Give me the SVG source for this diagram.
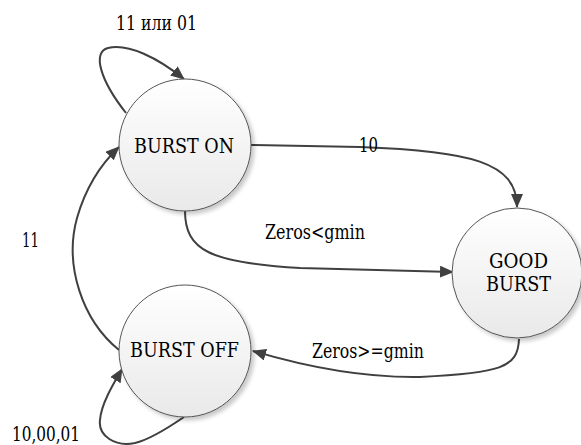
<svg xmlns="http://www.w3.org/2000/svg" width="581" height="445" viewBox="0 0 581 445">
  <defs>
    <linearGradient id="nodeFill" x1="0" y1="0" x2="0" y2="1">
      <stop offset="0" stop-color="#ffffff"/>
      <stop offset="1" stop-color="#e9e9e9"/>
    </linearGradient>
    <filter id="shadow" x="-20%" y="-20%" width="150%" height="150%">
      <feGaussianBlur in="SourceAlpha" stdDeviation="2"/>
      <feOffset dx="3" dy="3" result="b"/>
      <feComponentTransfer><feFuncA type="linear" slope="0.22"/></feComponentTransfer>
      <feMerge><feMergeNode/><feMergeNode in="SourceGraphic"/></feMerge>
    </filter>
    <marker id="arrow" markerWidth="14" markerHeight="12" refX="13" refY="6" orient="auto" markerUnits="userSpaceOnUse">
      <path d="M0,0 L14,6 L0,12 Z" fill="#404040"/>
    </marker>
  </defs>
  <style>
    .node circle { fill: url(#nodeFill); stroke: #555555; stroke-width: 1; filter: url(#shadow); }
    text { font-family: 'DejaVu Serif', serif; font-size: 20px; fill: #000000; text-anchor: middle; }
    .edge { fill: none; stroke: #404040; stroke-width: 2; marker-end: url(#arrow); }
  </style>

  <g id="connectors">
    <!-- BURST ON self loop -->
    <path class="edge" d="M126,113 C100,80 92,52 108,48 C128,43 158,58 184,79"/>
    <!-- BURST ON to GOOD BURST (10) -->
    <path class="edge" d="M251,145 L360,147 C470,151 517,162 517,207"/>
    <!-- BURST ON to GOOD BURST (Zeros<gmin) -->
    <path class="edge" d="M185,211 C185,250 210,263 300,268 L453,272"/>
    <!-- GOOD BURST to BURST OFF -->
    <path class="edge" d="M519,339 C518,368 500,373 420,377 C360,378 300,365 253,351"/>
    <!-- BURST OFF to BURST ON -->
    <path class="edge" d="M119,350 C82,320 64,265 77,218 C85,190 100,165 119,147"/>
    <!-- BURST OFF self loop -->
    <path class="edge" d="M184,417 C165,430 148,440 135,443 C115,447 98,436 100,420 C101,405 112,386 122,369"/>
  </g>

  <g id="edge-labels">
    <text x="156.5" y="30" textLength="81" lengthAdjust="spacingAndGlyphs">11 или 01</text>
    <text x="368.5" y="152" textLength="19" lengthAdjust="spacingAndGlyphs">10</text>
    <text x="315" y="239" textLength="100" lengthAdjust="spacingAndGlyphs">Zeros&lt;gmin</text>
    <text x="368" y="358" textLength="112" lengthAdjust="spacingAndGlyphs">Zeros&gt;=gmin</text>
    <text x="30.5" y="247" textLength="17" lengthAdjust="spacingAndGlyphs">11</text>
    <text x="46" y="441" textLength="68" lengthAdjust="spacingAndGlyphs">10,00,01</text>
  </g>

  <g id="burst-on" class="node">
    <circle cx="185" cy="145" r="66"/>
    <text x="184" y="153" textLength="100" lengthAdjust="spacingAndGlyphs">BURST ON</text>
  </g>
  <g id="good-burst" class="node">
    <circle cx="517" cy="273" r="65"/>
    <text x="518.5" y="268" textLength="59" lengthAdjust="spacingAndGlyphs">GOOD</text>
    <text x="518.5" y="291" textLength="65" lengthAdjust="spacingAndGlyphs">BURST</text>
  </g>
  <g id="burst-off" class="node">
    <circle cx="185" cy="351" r="66"/>
    <text x="184.5" y="357" textLength="109" lengthAdjust="spacingAndGlyphs">BURST OFF</text>
  </g>
</svg>
